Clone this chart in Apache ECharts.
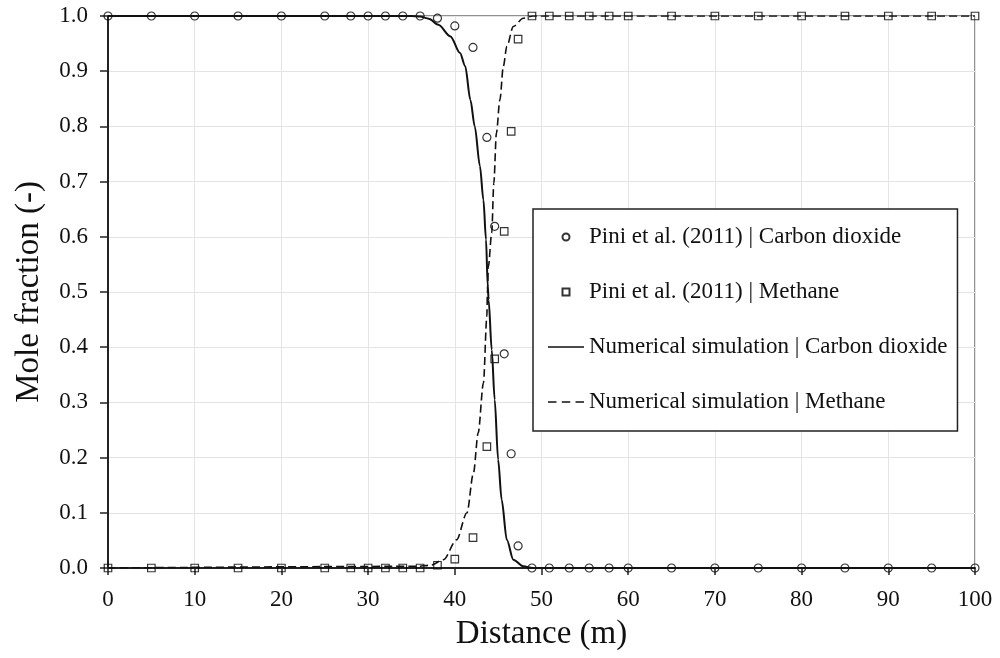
<!DOCTYPE html>
<html style="height:100%;">
<head>
  <meta charset="utf-8">
  <script src="https://cdn.jsdelivr.net/npm/echarts@6/dist/echarts.min.js"></script>
  <style>
    body { margin: 0; background: #fff; }
    #chart { width: 1000px; height: 658px; }
  </style>
</head>
<body>
  <div id="chart"></div>
  <script>
    // measured positions (m)
    var expX = [0, 5, 10, 15, 20, 25, 28, 30, 32, 34, 36, 38, 40, 42.1, 43.7, 44.6, 45.7, 46.5, 47.3,
      48.9, 50.9, 53.2, 55.5, 57.8, 60, 65, 70, 75, 80, 85, 90, 95, 100];
    // Pini et al. (2011)
    var expCO2 = [1, 1, 1, 1, 1, 1, 1, 1, 1, 1, 1, 0.996, 0.982, 0.943, 0.780, 0.619, 0.388, 0.207, 0.040,
      0, 0, 0, 0, 0, 0, 0, 0, 0, 0, 0, 0, 0, 0];
    var expCH4 = [0, 0, 0, 0, 0, 0, 0, 0, 0, 0, 0, 0.005, 0.016, 0.055, 0.220, 0.379, 0.610, 0.791, 0.958,
      1, 1, 1, 1, 1, 1, 1, 1, 1, 1, 1, 1, 1, 1];

    // numerical simulation
    var simCO2X = [0, 35, 36, 37, 38.1, 39.5, 40.6, 41.2, 41.8, 42.3, 42.9, 43.3, 43.6, 43.8, 43.9,
      44.26, 44.6, 45.0, 45.4, 46.0, 46.75, 47.9, 49, 100];
    var simCO2Y = [1, 1, 0.999, 0.995, 0.984, 0.963, 0.933, 0.909, 0.848, 0.80, 0.728, 0.667, 0.595, 0.51, 0.486,
      0.395, 0.305, 0.196, 0.124, 0.051, 0.015, 0.003, 0, 0];
    var simCH4X = [0, 35.6, 37.2, 38.7, 40.2, 41.4, 42.15, 42.7, 43.3, 43.7, 43.76, 43.87,
      44.26, 44.5, 44.8, 45.2, 45.6, 46.0, 46.75, 47.9, 49, 100];
    var simCH4Y = [0, 0.003, 0.005, 0.015, 0.051, 0.10, 0.172, 0.245, 0.335, 0.456, 0.498, 0.546,
      0.607, 0.697, 0.788, 0.848, 0.909, 0.945, 0.981, 0.996, 1, 1];

    var names = [
      'Pini et al. (2011) | Carbon dioxide',
      'Pini et al. (2011) | Methane',
      'Numerical simulation | Carbon dioxide',
      'Numerical simulation | Methane'
    ];

    function pairs(xs, ys) {
      return xs.map(function (x, i) { return [x, ys[i]]; });
    }

    var font = 'Liberation Serif';
    var chart = echarts.init(document.getElementById('chart'));

    var markerStyle = { color: 'transparent', borderColor: '#000', borderWidth: 1.2 };
    // legend icons
    var squareIcon = 'path://M0,0H10V10H0Z';
    var solidIcon = 'path://M0,0H36V1.5H0Z';
    var dashIcon = 'path://M0,0H8V1.5H0Z M13,0H21V1.5H13Z M26,0H34V1.5H26Z';

    var option = {
      animation: false,
      backgroundColor: '#fff',
      grid: {
        left: 108, right: 25, top: 16, bottom: 90,
        show: true, borderColor: '#222', borderWidth: 1
      },
      legend: {
        orient: 'vertical',
        left: 533, top: 209,
        padding: [16, 10, 17, 15],
        itemWidth: 36, itemHeight: 7, itemGap: 31,
        borderColor: '#222', borderWidth: 1.5,
        backgroundColor: '#fff',
        selectedMode: false,
        symbolKeepAspect: true,
        textStyle: { fontFamily: font, fontSize: 23, color: '#111', lineHeight: 24 },
        data: [
          { name: names[0], icon: 'circle' },
          { name: names[1], icon: squareIcon },
          { name: names[2], icon: solidIcon, itemStyle: { color: '#111', borderWidth: 0 } },
          { name: names[3], icon: dashIcon, itemStyle: { color: '#111', borderWidth: 0 } }
        ]
      },
      xAxis: {
        type: 'value', min: 0, max: 100, interval: 10,
        name: 'Distance (m)', nameLocation: 'middle', nameGap: 50,
        nameTextStyle: { fontFamily: font, fontSize: 33, color: '#111' },
        axisLine: { lineStyle: { color: '#222', width: 2 } },
        axisTick: { show: true, length: 7, lineStyle: { color: '#222', width: 1.5 } },
        axisLabel: { fontFamily: font, fontSize: 23, color: '#111', margin: 20 },
        splitLine: { show: true, lineStyle: { color: '#e4e4e4', width: 1 } }
      },
      yAxis: {
        type: 'value', min: 0, max: 1, interval: 0.1,
        name: 'Mole fraction (-)', nameLocation: 'middle', nameGap: 62,
        nameTextStyle: { fontFamily: font, fontSize: 33, color: '#111' },
        axisLine: { show: true, lineStyle: { color: '#222', width: 2 } },
        axisTick: { show: true, length: 8, lineStyle: { color: '#222', width: 1.5 } },
        axisLabel: {
          fontFamily: font, fontSize: 23, color: '#111', margin: 20,
          formatter: function (v) { return v.toFixed(1); }
        },
        splitLine: { show: true, lineStyle: { color: '#e4e4e4', width: 1 } }
      },
      series: [
        {
          name: names[0], type: 'scatter', symbol: 'circle', symbolSize: 8,
          itemStyle: markerStyle, emphasis: { disabled: true },
          data: pairs(expX, expCO2), z: 3
        },
        {
          name: names[1], type: 'scatter', symbol: 'rect', symbolSize: 7.5,
          itemStyle: markerStyle, emphasis: { disabled: true },
          data: pairs(expX, expCH4), z: 3
        },
        {
          name: names[2], type: 'line', symbol: 'none', smooth: 0.3, smoothMonotone: 'x',
          lineStyle: { color: '#111', width: 2 },
          itemStyle: { color: '#111' },
          data: pairs(simCO2X, simCO2Y), z: 4
        },
        {
          name: names[3], type: 'line', symbol: 'none', smooth: 0.3, smoothMonotone: 'x',
          lineStyle: { color: '#111', width: 1.6, type: [8, 4] },
          itemStyle: { color: '#111' },
          data: pairs(simCH4X, simCH4Y), z: 4
        }
      ]
    };

    chart.setOption(option);
  </script>
</body>
</html>
